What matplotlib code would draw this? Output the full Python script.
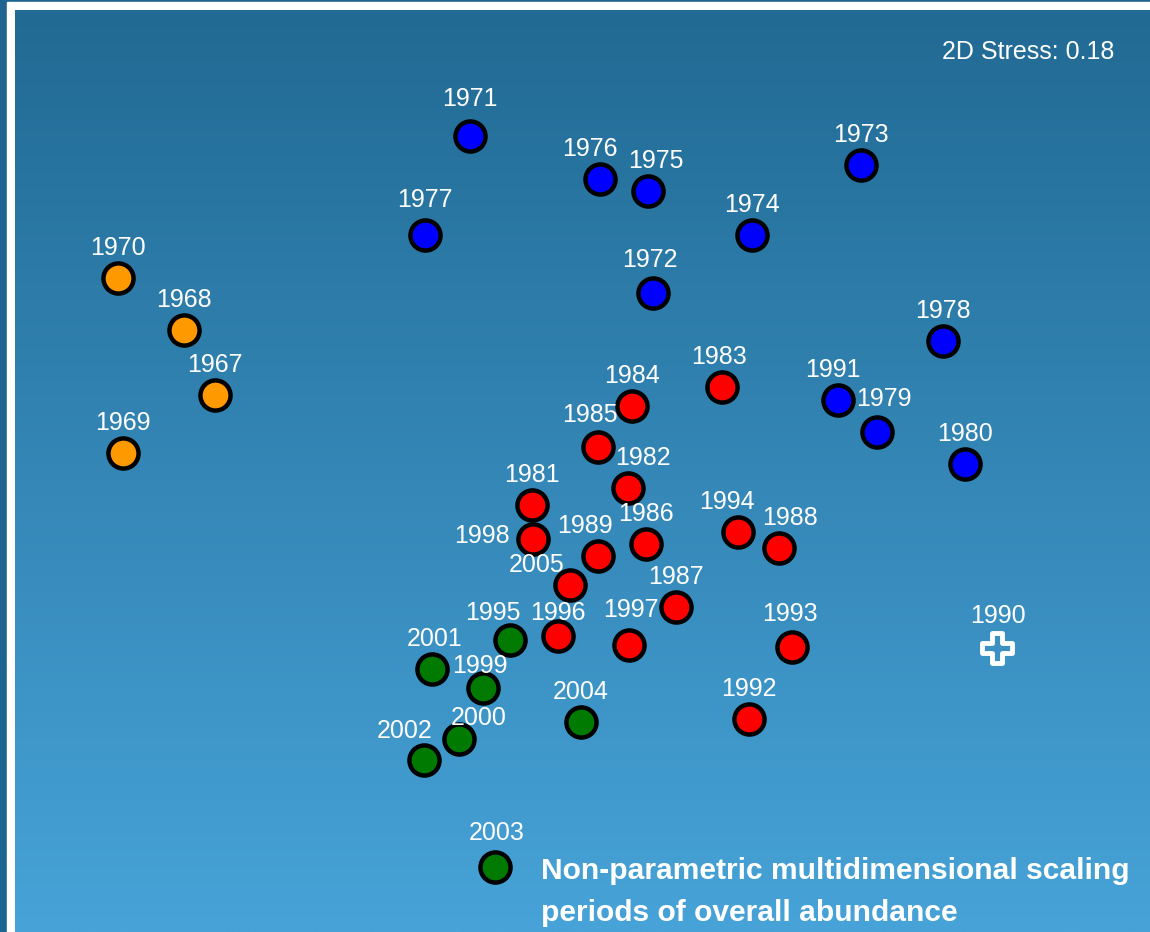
import numpy as np
import matplotlib.pyplot as plt
from matplotlib.patches import Rectangle

# NMDS ordination coordinates (screen units)
years_orange = ["1970", "1968", "1967", "1969"]
x_orange = [118, 184, 215, 123]
y_orange = [278, 330, 395, 453]

years_blue = ["1971", "1976", "1975", "1973", "1977", "1974", "1972",
              "1978", "1991", "1979", "1980"]
x_blue = [470, 600, 648, 861, 425, 752, 653, 943, 838, 877, 965]
y_blue = [136, 179, 191, 165, 235, 235, 293, 341, 400, 432, 464]

years_red = ["1983", "1984", "1985", "1982", "1981", "1998", "1989", "1986",
             "1994", "1988", "2005", "1987", "1996", "1997", "1993", "1992"]
x_red = [722, 632, 598, 628, 532, 533, 598, 646, 738, 779, 570, 676, 558, 629, 792, 749]
y_red = [387, 406, 447, 488, 505, 539, 556, 544, 532, 548, 585, 607, 636, 645, 647, 719]

years_green = ["1995", "2001", "1999", "2004", "2000", "2002", "2003"]
x_green = [510, 432, 483, 581, 459, 424, 495]
y_green = [640, 669, 688, 722, 739, 760, 867]

year_outlier = "1990"
x_outlier = 997
y_outlier = 648

stress = 0.18

# label nudges (pixels) where the default "above" placement is off
label_shift = {
    "1976": (-10, 0), "1975": (8, 0), "1971": (0, -7), "1977": (0, -5),
    "1972": (-3, -3), "1991": (-5, 0), "1979": (7, -3), "1985": (-8, -2),
    "1982": (15, 0), "1994": (-11, 0), "1988": (11, 0), "1989": (-13, 0),
    "1995": (-17, 3), "1996": (0, 7), "1997": (2, -5), "1993": (-2, -3),
    "1999": (-3, 8), "2000": (20, 9), "2002": (-19, 1), "2003": (2, -4),
    "1983": (-3, 0), "2001": (3, 0),
}
label_abs = {"1998": (-51, -3), "2005": (-33, -20)}

W, H = 1150, 932
fig = plt.figure(figsize=(W / 100, H / 100), dpi=100)
fig.patch.set_facecolor("#1d6590")
ax = fig.add_axes([0, 0, 1, 1])
ax.set_xlim(0, W)
ax.set_ylim(H, 0)
ax.axis("off")

# white frame + gradient panel
ax.add_patch(Rectangle((7, 2), W - 7, H - 2, color="white", zorder=0))
grad = np.linspace(0, 1, 256)[:, None]
top = np.array([0x21, 0x6a, 0x94]) / 255
bot = np.array([0x47, 0xa3, 0xd8]) / 255
img = top + (bot - top) * grad[:, :, None]
img = np.repeat(img, 2, axis=1)
ax.imshow(img, extent=(15, W, H, 10), aspect="auto", zorder=1,
          interpolation="bilinear")

font = ["Liberation Sans", "DejaVu Sans"]


def draw_group(xs, ys, names, color):
    ax.scatter(xs, ys, s=470, c=color, edgecolors="black", linewidths=3.2,
               zorder=3)
    for x, y, n in zip(xs, ys, names):
        if n in label_abs:
            dx, dy = label_abs[n]
        else:
            dx, dy = label_shift.get(n, (0, 0))
            dy -= 30
        ax.text(x + dx, y + dy, n, color="white", fontsize=18, family=font,
                ha="center", va="center", zorder=4)


draw_group(x_orange, y_orange, years_orange, "#ff9900")
draw_group(x_blue, y_blue, years_blue, "#0000ff")
draw_group(x_red, y_red, years_red, "#ff0000")
draw_group(x_green, y_green, years_green, "#007a00")

# 1990 outlier drawn as hollow white cross
ax.scatter([x_outlier], [y_outlier], s=480, marker="P", facecolors="none",
           edgecolors="white", linewidths=3.5, zorder=3)
ax.text(x_outlier + 1, y_outlier - 32, year_outlier, color="white",
        fontsize=18, family=font, ha="center", va="center", zorder=4)

ax.text(1114, 52, "2D Stress: %.2f" % stress, color="white", fontsize=18,
        family=font, ha="right", va="center", zorder=4)

ax.text(541, 879, "Non-parametric multidimensional scaling",
        color="white", fontsize=21.6, fontweight="bold", family=font,
        ha="left", va="baseline", zorder=4)
ax.text(541, 921, "periods of overall abundance",
        color="white", fontsize=21.6, fontweight="bold", family=font,
        ha="left", va="baseline", zorder=4)

fig.savefig("out.png", dpi=100, facecolor=fig.get_facecolor())
